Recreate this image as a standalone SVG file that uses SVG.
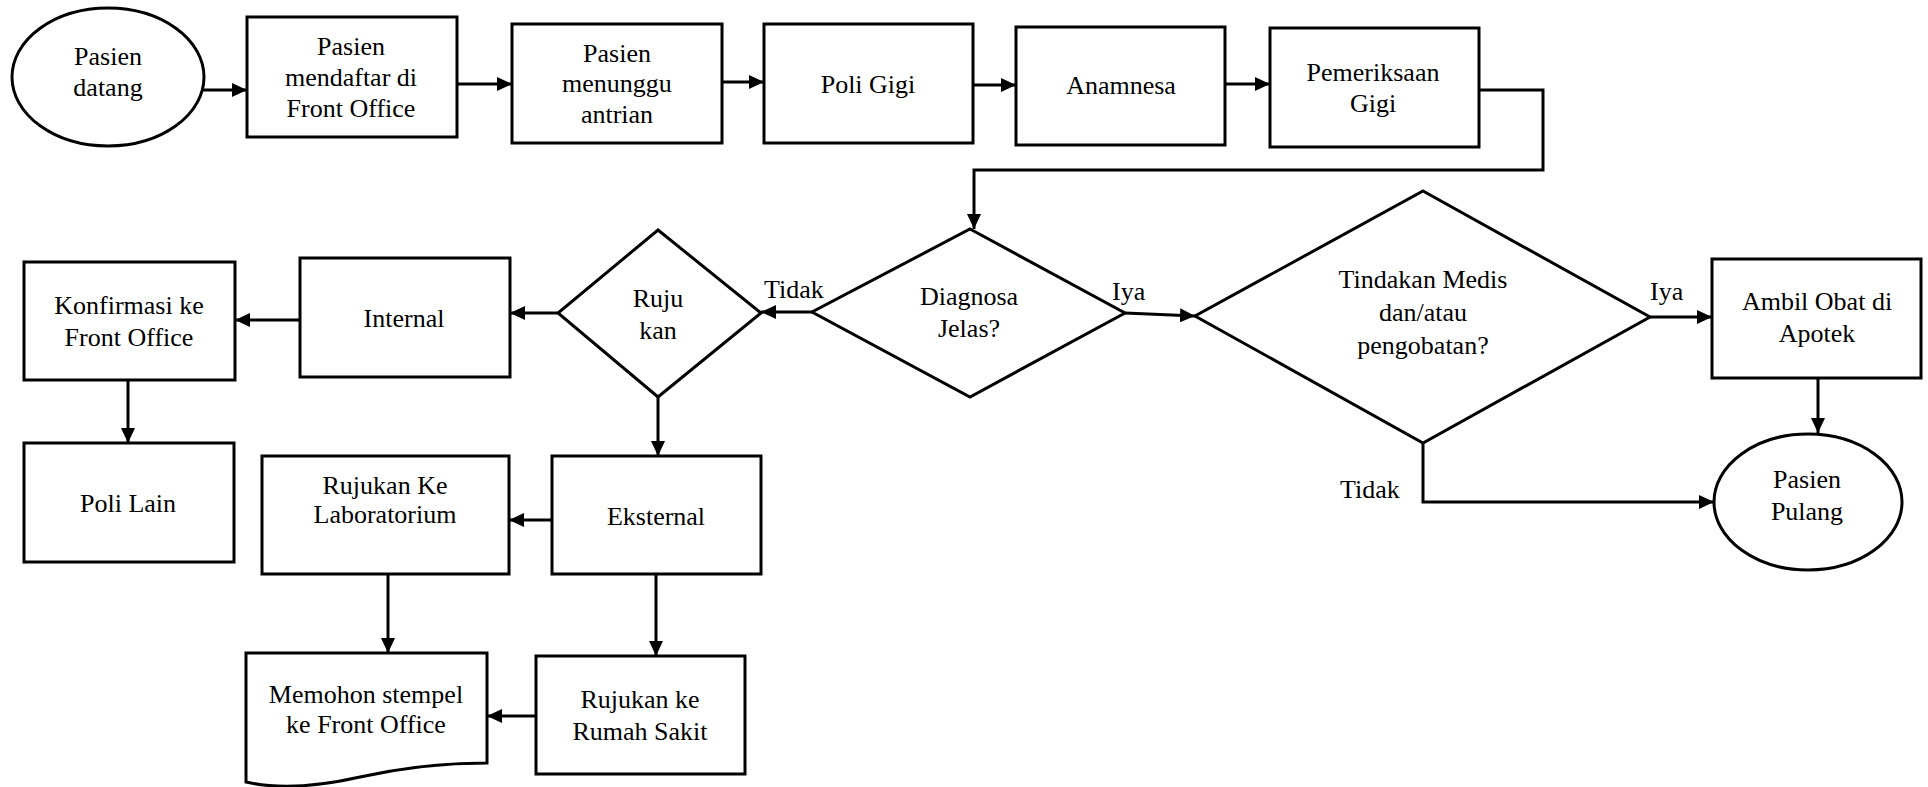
<svg xmlns="http://www.w3.org/2000/svg" width="1928" height="787" viewBox="0 0 1928 787">
  <style>
    .shape { fill: #ffffff; stroke: #000000; stroke-width: 3; }
    .conn { fill: none; stroke: #000000; stroke-width: 3; }
    .t { font-family: 'Liberation Serif', 'DejaVu Serif', serif; font-size: 26px; fill: #000000; text-anchor: middle; }
    .lbl { text-anchor: start; }
  </style>
  <defs>
    <marker id="arrow" markerUnits="userSpaceOnUse" markerWidth="16" markerHeight="16" refX="15" refY="7" orient="auto">
      <path d="M0,0 L15,7 L0,14 z" fill="#000000"/>
    </marker>
  </defs>
  <rect width="1928" height="787" fill="#ffffff"/>

  <!-- connectors -->
  <g id="connectors">
    <line class="conn" x1="203" y1="90" x2="247" y2="90" marker-end="url(#arrow)"/>
    <line class="conn" x1="457" y1="84" x2="512" y2="84" marker-end="url(#arrow)"/>
    <line class="conn" x1="722" y1="82" x2="764" y2="82" marker-end="url(#arrow)"/>
    <line class="conn" x1="973" y1="85" x2="1016" y2="85" marker-end="url(#arrow)"/>
    <line class="conn" x1="1225" y1="84" x2="1270" y2="84" marker-end="url(#arrow)"/>
    <path class="conn" d="M1479,90 H1543 V170 H974 V229" marker-end="url(#arrow)"/>
    <line class="conn" x1="812" y1="312" x2="761" y2="312" marker-end="url(#arrow)"/>
    <line class="conn" x1="1125" y1="313" x2="1195" y2="316" marker-end="url(#arrow)"/>
    <line class="conn" x1="1650" y1="317" x2="1712" y2="317" marker-end="url(#arrow)"/>
    <line class="conn" x1="1818" y1="378" x2="1818" y2="433" marker-end="url(#arrow)"/>
    <path class="conn" d="M1423,443 V502 H1714" marker-end="url(#arrow)"/>
    <line class="conn" x1="558" y1="313" x2="510" y2="313" marker-end="url(#arrow)"/>
    <line class="conn" x1="300" y1="320" x2="235" y2="320" marker-end="url(#arrow)"/>
    <line class="conn" x1="128" y1="380" x2="128" y2="443" marker-end="url(#arrow)"/>
    <line class="conn" x1="658" y1="397" x2="658" y2="456" marker-end="url(#arrow)"/>
    <line class="conn" x1="552" y1="520" x2="509" y2="520" marker-end="url(#arrow)"/>
    <line class="conn" x1="388" y1="574" x2="388" y2="653" marker-end="url(#arrow)"/>
    <line class="conn" x1="656" y1="574" x2="656" y2="656" marker-end="url(#arrow)"/>
    <line class="conn" x1="536" y1="716" x2="487" y2="716" marker-end="url(#arrow)"/>
    <text class="t lbl" x="764" y="298">Tidak</text>
    <text class="t lbl" x="1112" y="300">Iya</text>
    <text class="t lbl" x="1650" y="300">Iya</text>
    <text class="t lbl" x="1340" y="498">Tidak</text>
  </g>

  <!-- nodes -->
  <g id="pasien-datang">
    <ellipse class="shape" cx="108" cy="77" rx="96" ry="69"/>
    <text class="t" x="108" y="65">Pasien</text>
    <text class="t" x="108" y="96">datang</text>
  </g>
  <g id="mendaftar">
    <rect class="shape" x="247" y="17" width="210" height="120"/>
    <text class="t" x="351" y="55">Pasien</text>
    <text class="t" x="351" y="86">mendaftar di</text>
    <text class="t" x="351" y="117">Front Office</text>
  </g>
  <g id="menunggu">
    <rect class="shape" x="512" y="24" width="210" height="119"/>
    <text class="t" x="617" y="62">Pasien</text>
    <text class="t" x="617" y="92">menunggu</text>
    <text class="t" x="617" y="123">antrian</text>
  </g>
  <g id="poli-gigi">
    <rect class="shape" x="764" y="24" width="209" height="119"/>
    <text class="t" x="868" y="93">Poli Gigi</text>
  </g>
  <g id="anamnesa">
    <rect class="shape" x="1016" y="27" width="209" height="118"/>
    <text class="t" x="1121" y="94">Anamnesa</text>
  </g>
  <g id="pemeriksaan">
    <rect class="shape" x="1270" y="28" width="209" height="119"/>
    <text class="t" x="1373" y="81">Pemeriksaan</text>
    <text class="t" x="1373" y="112">Gigi</text>
  </g>
  <g id="diagnosa">
    <polygon class="shape" points="970,229 1125,313 970,397 812,312"/>
    <text class="t" x="969" y="305">Diagnosa</text>
    <text class="t" x="969" y="337">Jelas?</text>
  </g>
  <g id="tindakan">
    <polygon class="shape" points="1423,191 1650,317 1423,443 1195,316"/>
    <text class="t" x="1423" y="288">Tindakan Medis</text>
    <text class="t" x="1423" y="321">dan/atau</text>
    <text class="t" x="1423" y="354">pengobatan?</text>
  </g>
  <g id="ambil-obat">
    <rect class="shape" x="1712" y="259" width="209" height="119"/>
    <text class="t" x="1817" y="310">Ambil Obat di</text>
    <text class="t" x="1817" y="342">Apotek</text>
  </g>
  <g id="pasien-pulang">
    <ellipse class="shape" cx="1808" cy="502" rx="94" ry="68"/>
    <text class="t" x="1807" y="488">Pasien</text>
    <text class="t" x="1807" y="520">Pulang</text>
  </g>
  <g id="rujukan">
    <polygon class="shape" points="658,230 761,313 658,397 558,313"/>
    <text class="t" x="658" y="307">Ruju</text>
    <text class="t" x="658" y="339">kan</text>
  </g>
  <g id="internal">
    <rect class="shape" x="300" y="258" width="210" height="119"/>
    <text class="t" x="404" y="327">Internal</text>
  </g>
  <g id="konfirmasi">
    <rect class="shape" x="24" y="262" width="211" height="118"/>
    <text class="t" x="129" y="314">Konfirmasi ke</text>
    <text class="t" x="129" y="346">Front Office</text>
  </g>
  <g id="poli-lain">
    <rect class="shape" x="24" y="443" width="210" height="119"/>
    <text class="t" x="128" y="512">Poli Lain</text>
  </g>
  <g id="eksternal">
    <rect class="shape" x="552" y="456" width="209" height="118"/>
    <text class="t" x="656" y="525">Eksternal</text>
  </g>
  <g id="laboratorium">
    <rect class="shape" x="262" y="456" width="247" height="118"/>
    <text class="t" x="385" y="494">Rujukan Ke</text>
    <text class="t" x="385" y="523">Laboratorium</text>
  </g>
  <g id="rumah-sakit">
    <rect class="shape" x="536" y="656" width="209" height="118"/>
    <text class="t" x="640" y="708">Rujukan ke</text>
    <text class="t" x="640" y="740">Rumah Sakit</text>
  </g>
  <g id="memohon-stempel">
    <path class="shape" d="M246,653 H487 V763 C440,763 400,768 360,777 C320,786 280,790 246,782 Z"/>
    <text class="t" x="366" y="703">Memohon stempel</text>
    <text class="t" x="366" y="733">ke Front Office</text>
  </g>
</svg>
